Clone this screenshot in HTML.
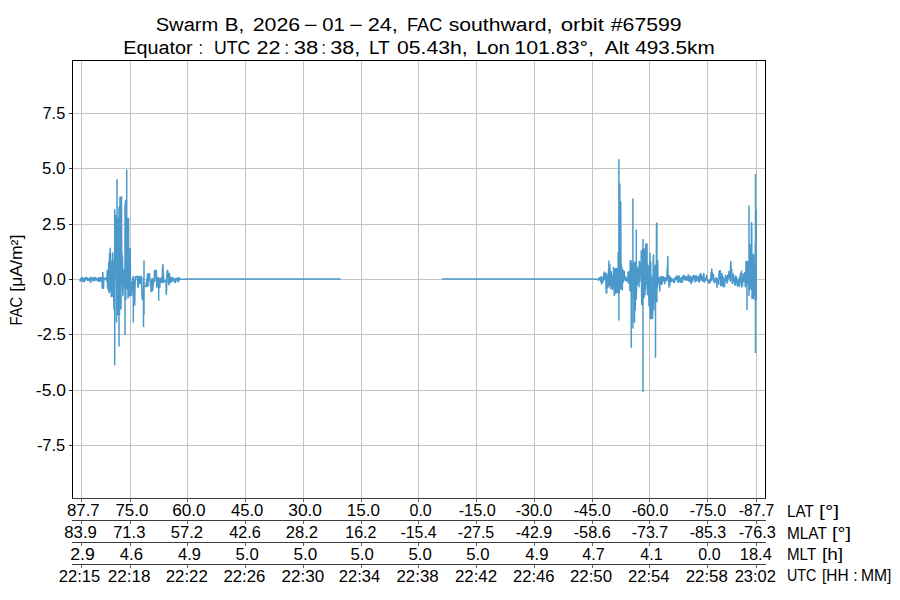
<!DOCTYPE html>
<html><head><meta charset="utf-8"><title>Swarm B FAC southward</title><style>
html,body{margin:0;padding:0;background:#fff;width:900px;height:600px;overflow:hidden}
svg{display:block}
text{font-family:"Liberation Sans", sans-serif;fill:#000;white-space:pre}
</style></head><body>
<svg width="900" height="600" viewBox="0 0 900 600">
<rect width="900" height="600" fill="#fff"/>
<rect x="81" y="60" width="1" height="438" fill="#c4c4c4"/>
<rect x="130" y="60" width="1" height="438" fill="#c4c4c4"/>
<rect x="187" y="60" width="1" height="438" fill="#c4c4c4"/>
<rect x="245" y="60" width="1" height="438" fill="#c4c4c4"/>
<rect x="303" y="60" width="1" height="438" fill="#c4c4c4"/>
<rect x="361" y="60" width="1" height="438" fill="#c4c4c4"/>
<rect x="418" y="60" width="1" height="438" fill="#c4c4c4"/>
<rect x="476" y="60" width="1" height="438" fill="#c4c4c4"/>
<rect x="534" y="60" width="1" height="438" fill="#c4c4c4"/>
<rect x="592" y="60" width="1" height="438" fill="#c4c4c4"/>
<rect x="649" y="60" width="1" height="438" fill="#c4c4c4"/>
<rect x="707" y="60" width="1" height="438" fill="#c4c4c4"/>
<rect x="756" y="60" width="1" height="438" fill="#c4c4c4"/>
<rect x="72" y="113" width="693" height="1" fill="#c4c4c4"/>
<rect x="69" y="113" width="3" height="1" fill="#333"/>
<rect x="72" y="168" width="693" height="1" fill="#c4c4c4"/>
<rect x="69" y="168" width="3" height="1" fill="#333"/>
<rect x="72" y="224" width="693" height="1" fill="#c4c4c4"/>
<rect x="69" y="224" width="3" height="1" fill="#333"/>
<rect x="72" y="279" width="693" height="1" fill="#c4c4c4"/>
<rect x="69" y="279" width="3" height="1" fill="#333"/>
<rect x="72" y="334" width="693" height="1" fill="#c4c4c4"/>
<rect x="69" y="334" width="3" height="1" fill="#333"/>
<rect x="72" y="390" width="693" height="1" fill="#c4c4c4"/>
<rect x="69" y="390" width="3" height="1" fill="#333"/>
<rect x="72" y="445" width="693" height="1" fill="#c4c4c4"/>
<rect x="69" y="445" width="3" height="1" fill="#333"/>
<path d="M80.00,279.05 L80.25,281.04 L80.50,280.84 L80.75,278.55 L81.00,278.74 L81.25,278.54 L81.50,279.85 L81.75,278.95 L82.00,280.12 L82.25,277.60 L82.50,281.35 L82.75,278.92 L83.00,280.02 L83.25,278.88 L83.50,278.67 L83.75,279.69 L84.00,281.63 L84.25,278.82 L84.50,278.87 L84.75,281.19 L85.00,278.24 L85.25,277.67 L85.50,279.59 L85.75,278.41 L86.00,277.60 L86.25,278.29 L86.50,278.59 L86.75,277.96 L87.00,277.69 L87.25,279.05 L87.50,280.35 L87.75,278.80 L88.00,278.35 L88.25,279.58 L88.50,280.08 L88.75,278.74 L89.00,279.82 L89.25,280.56 L89.50,278.82 L89.75,278.29 L90.00,280.11 L90.25,279.79 L90.50,282.50 L90.75,277.23 L91.00,278.42 L91.25,278.27 L91.50,277.60 L91.75,279.19 L92.00,279.79 L92.25,278.35 L92.50,281.08 L92.75,280.23 L93.00,279.94 L93.25,279.60 L93.50,280.43 L93.75,277.83 L94.00,279.92 L94.25,279.90 L94.50,277.60 L94.75,279.52 L95.00,278.23 L95.25,280.17 L95.50,277.66 L95.75,278.94 L96.00,279.51 L96.25,278.23 L96.50,279.90 L96.75,278.91 L97.00,279.74 L97.25,278.54 L97.50,280.63 L97.75,279.91 L98.00,278.84 L98.25,279.95 L98.50,280.89 L98.75,281.40 L99.00,277.62 L99.25,280.32 L99.50,279.70 L99.75,278.92 L100.00,278.12 L100.25,280.89 L100.50,277.90 L100.75,279.85 L101.00,280.95 L101.25,277.60 L101.50,278.74 L101.75,277.85 L102.00,280.43 L102.25,287.90 L102.50,288.40 L102.75,272.60 L103.00,276.70 L103.25,283.13 L103.50,288.28 L103.75,281.47 L104.00,278.35 L104.25,279.45 L104.50,278.99 L104.75,278.82 L105.00,278.36 L105.25,279.58 L105.50,279.46 L105.75,278.92 L106.00,278.81 L106.25,277.88 L106.50,278.57 L106.75,280.81 L107.00,277.12 L107.25,270.60 L107.50,287.40 L107.75,284.24 L108.00,289.40 L108.25,279.76 L108.50,270.10 L108.75,262.60 L109.00,292.40 L109.25,292.40 L109.50,253.50 L109.75,258.90 L110.00,290.50 L110.25,248.33 L110.50,269.01 L110.75,266.08 L111.00,282.93 L111.25,296.40 L111.50,279.45 L111.75,296.40 L112.00,260.87 L112.25,285.71 L112.50,252.90 L112.75,252.90 L113.00,295.95 L113.25,260.88 L113.50,291.35 L113.75,298.40 L114.00,309.40 L114.25,308.04 L114.50,309.40 L114.75,269.82 L115.00,221.58 L115.25,218.84 L115.50,238.87 L115.75,215.60 L116.00,238.17 L116.25,272.10 L116.50,291.85 L116.75,253.72 L117.00,215.60 L117.25,272.91 L117.50,288.38 L117.75,314.40 L118.00,303.07 L118.25,224.75 L118.50,217.99 L118.75,314.40 L119.00,310.51 L119.25,314.40 L119.50,314.40 L119.75,210.04 L120.00,292.64 L120.25,295.22 L120.50,298.82 L120.75,298.19 L121.00,286.16 L121.25,285.17 L121.50,196.85 L121.75,273.22 L122.00,252.88 L122.25,281.58 L122.50,256.94 L122.75,291.66 L123.00,295.77 L123.25,285.32 L123.50,285.47 L123.75,281.23 L124.00,269.83 L124.25,275.63 L124.50,268.85 L124.75,288.31 L125.00,279.34 L125.25,292.95 L125.50,200.60 L125.75,299.40 L126.00,208.65 L126.25,211.27 L126.50,260.79 L126.75,227.04 L127.00,285.99 L127.25,226.04 L127.50,218.60 L127.75,218.90 L128.00,298.10 L128.25,279.99 L128.50,218.60 L128.75,279.19 L129.00,262.60 L129.25,296.10 L129.50,262.60 L129.75,288.63 L130.00,289.94 L130.25,248.60 L130.50,284.79 L130.75,295.40 L131.00,288.02 L131.25,284.04 L131.50,295.40 L131.75,282.10 L132.00,286.39 L132.25,281.83 L132.50,290.68 L132.75,277.96 L133.00,286.74 L133.25,278.58 L133.50,276.60 L133.75,278.04 L134.00,295.40 L134.25,295.40 L134.50,296.58 L134.75,305.10 L135.00,286.42 L135.25,280.75 L135.50,280.08 L135.75,276.60 L136.00,276.60 L136.25,276.60 L136.50,276.60 L136.75,276.60 L137.00,276.60 L137.25,276.60 L137.50,276.60 L137.75,286.22 L138.00,283.49 L138.25,287.40 L138.50,284.45 L138.75,276.60 L139.00,277.17 L139.25,278.82 L139.50,277.91 L139.75,278.98 L140.00,283.52 L140.25,277.87 L140.50,276.60 L140.75,276.60 L141.00,276.60 L141.25,276.60 L141.50,281.29 L141.75,287.40 L142.00,295.01 L142.25,299.40 L142.50,299.40 L142.75,299.40 M144.00,286.40 L144.25,286.40 L144.50,286.40 L144.75,286.40 L145.00,286.40 L145.25,286.40 L145.50,286.40 L145.75,286.40 L146.00,286.40 L146.25,283.09 L146.50,286.40 L146.75,278.99 L147.00,283.97 L147.25,282.07 L147.50,273.91 L147.75,284.68 L148.00,286.13 L148.25,275.42 L148.50,280.46 L148.75,277.28 L149.00,273.60 L149.25,273.60 L149.50,273.60 L149.75,278.66 L150.00,280.44 L150.25,280.47 L150.50,285.49 L150.75,280.73 L151.00,291.40 L151.25,290.49 L151.50,289.93 L151.75,291.40 L152.00,278.88 L152.25,278.65 L152.50,290.01 L152.75,290.11 L153.00,282.89 L153.25,285.55 L153.50,278.95 L153.75,281.36 L154.00,278.80 L154.25,278.97 L154.50,270.60 L154.75,281.19 L155.00,276.33 L155.25,270.60 L155.50,270.60 L155.75,270.60 L156.00,273.60 L156.25,270.60 L156.50,273.95 L156.75,287.40 L157.00,285.46 L157.25,285.89 L157.50,281.00 L157.75,281.84 L158.00,277.60 L158.25,277.60 L158.50,277.73 L158.75,278.12 L159.00,287.40 L159.25,279.63 L159.50,280.80 L159.75,287.40 L160.00,283.10 L160.25,278.58 L160.50,278.59 L160.75,278.56 L161.00,282.00 L161.25,281.46 L161.50,277.65 L161.75,278.95 L162.00,282.40 L162.25,282.40 L162.50,267.45 L162.75,269.55 L163.00,264.60 L163.25,275.74 L163.50,274.51 L163.75,282.40 L164.00,281.10 L164.25,281.10 L164.50,281.10 L164.75,281.03 L165.00,281.00 L165.25,281.10 L165.50,281.10 L165.75,280.63 L166.00,281.10 L166.25,294.40 L166.50,290.86 L166.75,276.89 L167.00,273.11 L167.25,270.60 L167.50,270.60 L167.75,270.60 L168.00,276.94 L168.25,277.04 L168.50,283.62 L168.75,284.54 L169.00,284.75 L169.25,273.60 L169.50,273.60 L169.75,276.99 L170.00,282.40 L170.25,282.40 L170.50,282.40 L170.75,281.95 L171.00,277.60 L171.25,278.37 L171.50,278.63 L171.75,281.52 L172.00,280.23 L172.25,280.51 L172.50,277.60 L172.75,278.56 L173.00,278.12 L173.25,278.90 L173.50,280.32 L173.75,279.48 L174.00,280.33 L174.25,279.82 L174.50,281.99 L174.75,282.40 L175.00,278.57 L175.25,278.54 L175.50,282.29 L175.75,278.92 L176.00,280.87 L176.25,279.74 L176.50,278.56 L176.75,278.42 L177.00,279.23 L177.25,279.48 L177.50,280.16 L177.75,278.01 L178.00,278.54 L178.25,278.93 L178.50,282.02 L178.75,277.60 L179.00,279.83 L179.25,278.58 L179.50,279.81 L179.75,278.62 L180.00,279.15 L180.25,279.15 L180.50,279.15 L180.75,279.15 L181.00,279.15 L181.25,279.15 L181.50,279.15 L181.75,279.15 L182.00,279.15 L182.25,279.15 L182.50,279.15 L182.75,279.15 L183.00,279.15 L183.25,279.15 L183.50,279.15 L183.75,279.15 L184.00,279.15 L184.25,279.15 L184.50,279.15 L184.75,279.15 L185.00,279.15 L185.25,279.15 L185.50,279.15 L185.75,279.15 L186.00,279.15 L186.25,279.15 L186.50,279.15 L186.75,279.00 L187.00,279.00 L187.25,279.00 L187.50,279.00 L187.75,279.00 L188.00,279.00 L188.25,279.00 L188.50,279.00 L188.75,279.00 L189.00,279.00 L189.25,279.00 L189.50,279.00 L189.75,279.00 L190.00,279.00 L190.25,279.00 L190.50,279.00 L190.75,279.00 L191.00,279.00 L191.25,279.00 L191.50,279.00 L191.75,279.00 L192.00,279.00 L192.25,279.00 L192.50,279.00 L192.75,279.00 L193.00,279.00 L193.25,279.00 L193.50,279.00 L193.75,279.00 L194.00,279.00 L194.25,279.00 L194.50,279.00 L194.75,279.00 L195.00,279.00 L195.25,279.00 L195.50,279.00 L195.75,279.00 L196.00,279.00 L196.25,279.00 L196.50,279.00 L196.75,279.00 L197.00,279.00 L197.25,279.00 L197.50,279.00 L197.75,279.00 L198.00,279.00 L198.25,279.00 L198.50,279.00 L198.75,279.00 L199.00,279.00 L199.25,279.00 L199.50,279.00 L199.75,279.00 L200.00,279.00 L200.25,279.00 L200.50,279.00 L200.75,279.00 L201.00,279.00 L201.25,279.00 L201.50,279.00 L201.75,279.00 L202.00,279.00 L202.25,279.00 L202.50,279.00 L202.75,279.00 L203.00,279.00 L203.25,279.00 L203.50,279.00 L203.75,279.00 L204.00,279.00 L204.25,279.00 L204.50,279.00 L204.75,279.00 L205.00,279.00 L205.25,279.00 L205.50,279.00 L205.75,279.00 L206.00,279.00 L206.25,279.00 L206.50,279.00 L206.75,279.00 L207.00,279.00 L207.25,279.00 L207.50,279.00 L207.75,279.00 L208.00,279.00 L208.25,279.00 L208.50,279.00 L208.75,279.00 L209.00,279.00 L209.25,279.00 L209.50,279.00 L209.75,279.00 L210.00,279.00 L210.25,279.00 L210.50,279.00 L210.75,279.00 L211.00,279.00 L211.25,279.00 L211.50,279.00 L211.75,279.00 L212.00,279.00 L212.25,279.00 L212.50,279.00 L212.75,279.00 L213.00,279.00 L213.25,279.00 L213.50,279.00 L213.75,279.00 L214.00,279.00 L214.25,279.00 L214.50,279.00 L214.75,279.00 L215.00,279.00 L215.25,279.00 L215.50,279.00 L215.75,279.00 L216.00,279.00 L216.25,279.00 L216.50,279.00 L216.75,279.00 L217.00,279.00 L217.25,279.00 L217.50,279.00 L217.75,279.00 L218.00,279.00 L218.25,279.00 L218.50,279.00 L218.75,279.00 L219.00,279.00 L219.25,279.00 L219.50,279.00 L219.75,279.00 L220.00,279.00 L220.25,279.00 L220.50,279.00 L220.75,279.00 L221.00,279.00 L221.25,279.00 L221.50,279.00 L221.75,279.00 L222.00,279.00 L222.25,279.00 L222.50,279.00 L222.75,279.00 L223.00,279.00 L223.25,279.00 L223.50,279.00 L223.75,279.00 L224.00,279.00 L224.25,279.00 L224.50,279.00 L224.75,279.00 L225.00,279.00 L225.25,279.00 L225.50,279.00 L225.75,279.00 L226.00,279.00 L226.25,279.00 L226.50,279.00 L226.75,279.00 L227.00,279.00 L227.25,279.00 L227.50,279.00 L227.75,279.00 L228.00,279.00 L228.25,279.00 L228.50,279.00 L228.75,279.00 L229.00,279.00 L229.25,279.00 L229.50,279.00 L229.75,279.00 L230.00,279.00 L230.25,279.00 L230.50,279.00 L230.75,279.00 L231.00,279.00 L231.25,279.00 L231.50,279.00 L231.75,279.00 L232.00,279.00 L232.25,279.00 L232.50,279.00 L232.75,279.00 L233.00,279.00 L233.25,279.00 L233.50,279.00 L233.75,279.00 L234.00,279.00 L234.25,279.00 L234.50,279.00 L234.75,279.00 L235.00,279.00 L235.25,279.00 L235.50,279.00 L235.75,279.00 L236.00,279.00 L236.25,279.00 L236.50,279.00 L236.75,279.00 L237.00,279.00 L237.25,279.00 L237.50,279.00 L237.75,279.00 L238.00,279.00 L238.25,279.00 L238.50,279.00 L238.75,279.00 L239.00,279.00 L239.25,279.00 L239.50,279.00 L239.75,279.00 L240.00,279.00 L240.25,279.00 L240.50,279.00 L240.75,279.00 L241.00,279.00 L241.25,279.00 L241.50,279.00 L241.75,279.00 L242.00,279.00 L242.25,279.00 L242.50,279.00 L242.75,279.00 L243.00,279.00 L243.25,279.00 L243.50,279.00 L243.75,279.00 L244.00,279.00 L244.25,279.00 L244.50,279.00 L244.75,279.00 L245.00,279.00 L245.25,279.00 L245.50,279.00 L245.75,279.00 L246.00,279.00 L246.25,279.00 L246.50,279.00 L246.75,279.00 L247.00,279.00 L247.25,279.00 L247.50,279.00 L247.75,279.00 L248.00,279.00 L248.25,279.00 L248.50,279.00 L248.75,279.00 L249.00,279.00 L249.25,279.00 L249.50,279.00 L249.75,279.00 L250.00,279.00 L250.25,279.00 L250.50,279.00 L250.75,279.00 L251.00,279.00 L251.25,279.00 L251.50,279.00 L251.75,279.00 L252.00,279.00 L252.25,279.00 L252.50,279.00 L252.75,279.00 L253.00,279.00 L253.25,279.00 L253.50,279.00 L253.75,279.00 L254.00,279.00 L254.25,279.00 L254.50,279.00 L254.75,279.00 L255.00,279.00 L255.25,279.00 L255.50,279.00 L255.75,279.00 L256.00,279.00 L256.25,279.00 L256.50,279.00 L256.75,279.00 L257.00,279.00 L257.25,279.00 L257.50,279.00 L257.75,279.00 L258.00,279.00 L258.25,279.00 L258.50,279.00 L258.75,279.00 L259.00,279.00 L259.25,279.00 L259.50,279.00 L259.75,279.00 L260.00,279.00 L260.25,279.00 L260.50,279.00 L260.75,279.00 L261.00,279.00 L261.25,279.00 L261.50,279.00 L261.75,279.00 L262.00,279.00 L262.25,279.00 L262.50,279.00 L262.75,279.00 L263.00,279.00 L263.25,279.00 L263.50,279.00 L263.75,279.00 L264.00,279.00 L264.25,279.00 L264.50,279.00 L264.75,279.00 L265.00,279.00 L265.25,279.00 L265.50,279.00 L265.75,279.00 L266.00,279.00 L266.25,279.00 L266.50,279.00 L266.75,279.00 L267.00,279.00 L267.25,279.00 L267.50,279.00 L267.75,279.00 L268.00,279.00 L268.25,279.00 L268.50,279.00 L268.75,279.00 L269.00,279.00 L269.25,279.00 L269.50,279.00 L269.75,279.00 L270.00,279.00 L270.25,279.00 L270.50,279.00 L270.75,279.00 L271.00,279.00 L271.25,279.00 L271.50,279.00 L271.75,279.00 L272.00,279.00 L272.25,279.00 L272.50,279.00 L272.75,279.00 L273.00,279.00 L273.25,279.00 L273.50,279.00 L273.75,279.00 L274.00,279.00 L274.25,279.00 L274.50,279.00 L274.75,279.00 L275.00,279.00 L275.25,279.00 L275.50,279.00 L275.75,279.00 L276.00,279.00 L276.25,279.00 L276.50,279.00 L276.75,279.00 L277.00,279.00 L277.25,279.00 L277.50,279.00 L277.75,279.00 L278.00,279.00 L278.25,279.00 L278.50,279.00 L278.75,279.00 L279.00,279.00 L279.25,279.00 L279.50,279.00 L279.75,279.00 L280.00,279.00 L280.25,279.00 L280.50,279.00 L280.75,279.00 L281.00,279.00 L281.25,279.00 L281.50,279.00 L281.75,279.00 L282.00,279.00 L282.25,279.00 L282.50,279.00 L282.75,279.00 L283.00,279.00 L283.25,279.00 L283.50,279.00 L283.75,279.00 L284.00,279.00 L284.25,279.00 L284.50,279.00 L284.75,279.00 L285.00,279.00 L285.25,279.00 L285.50,279.00 L285.75,279.00 L286.00,279.00 L286.25,279.00 L286.50,279.00 L286.75,279.00 L287.00,279.00 L287.25,279.00 L287.50,279.00 L287.75,279.00 L288.00,279.00 L288.25,279.00 L288.50,279.00 L288.75,279.00 L289.00,279.00 L289.25,279.00 L289.50,279.00 L289.75,279.00 L290.00,279.00 L290.25,279.00 L290.50,279.00 L290.75,279.00 L291.00,279.00 L291.25,279.00 L291.50,279.00 L291.75,279.00 L292.00,279.00 L292.25,279.00 L292.50,279.00 L292.75,279.00 L293.00,279.00 L293.25,279.00 L293.50,279.00 L293.75,279.00 L294.00,279.00 L294.25,279.00 L294.50,279.00 L294.75,279.00 L295.00,279.00 L295.25,279.00 L295.50,279.00 L295.75,279.00 L296.00,279.00 L296.25,279.00 L296.50,279.00 L296.75,279.00 L297.00,279.00 L297.25,279.00 L297.50,279.00 L297.75,279.00 L298.00,279.00 L298.25,279.00 L298.50,279.00 L298.75,279.00 L299.00,279.00 L299.25,279.00 L299.50,279.00 L299.75,279.00 L300.00,279.00 L300.25,279.00 L300.50,279.00 L300.75,279.00 L301.00,279.00 L301.25,279.00 L301.50,279.00 L301.75,279.00 L302.00,279.00 L302.25,279.00 L302.50,279.00 L302.75,279.00 L303.00,279.00 L303.25,279.00 L303.50,279.00 L303.75,279.00 L304.00,279.00 L304.25,279.00 L304.50,279.00 L304.75,279.00 L305.00,279.00 L305.25,279.00 L305.50,279.00 L305.75,279.00 L306.00,279.00 L306.25,279.00 L306.50,279.00 L306.75,279.00 L307.00,279.00 L307.25,279.00 L307.50,279.00 L307.75,279.00 L308.00,279.00 L308.25,279.00 L308.50,279.00 L308.75,279.00 L309.00,279.00 L309.25,279.00 L309.50,279.00 L309.75,279.00 L310.00,279.00 L310.25,279.00 L310.50,279.00 L310.75,279.00 L311.00,279.00 L311.25,279.00 L311.50,279.00 L311.75,279.00 L312.00,279.00 L312.25,279.00 L312.50,279.00 L312.75,279.00 L313.00,279.00 L313.25,279.00 L313.50,279.00 L313.75,279.00 L314.00,279.00 L314.25,279.00 L314.50,279.00 L314.75,279.00 L315.00,279.00 L315.25,279.00 L315.50,279.00 L315.75,279.00 L316.00,279.00 L316.25,279.00 L316.50,279.00 L316.75,279.00 L317.00,279.00 L317.25,279.00 L317.50,279.00 L317.75,279.00 L318.00,279.00 L318.25,279.00 L318.50,279.00 L318.75,279.00 L319.00,279.00 L319.25,279.00 L319.50,279.00 L319.75,279.00 L320.00,279.00 L320.25,279.00 L320.50,279.00 L320.75,279.00 L321.00,279.00 L321.25,279.00 L321.50,279.00 L321.75,279.00 L322.00,279.00 L322.25,279.00 L322.50,279.00 L322.75,279.00 L323.00,279.00 L323.25,279.00 L323.50,279.00 L323.75,279.00 L324.00,279.00 L324.25,279.00 L324.50,279.00 L324.75,279.00 L325.00,279.00 L325.25,279.00 L325.50,279.00 L325.75,279.00 L326.00,279.00 L326.25,279.00 L326.50,279.00 L326.75,279.00 L327.00,279.00 L327.25,279.00 L327.50,279.00 L327.75,279.00 L328.00,279.00 L328.25,279.00 L328.50,279.00 L328.75,279.00 L329.00,279.00 L329.25,279.00 L329.50,279.00 L329.75,279.00 L330.00,279.00 L330.25,279.00 L330.50,279.00 L330.75,279.00 L331.00,279.00 L331.25,279.00 L331.50,279.00 L331.75,279.00 L332.00,279.00 L332.25,279.00 L332.50,279.00 L332.75,279.00 L333.00,279.00 L333.25,279.00 L333.50,279.00 L333.75,279.00 L334.00,279.00 L334.25,279.00 L334.50,279.00 L334.75,279.00 L335.00,279.00 L335.25,279.00 L335.50,279.00 L335.75,279.00 L336.00,279.00 L336.25,279.00 L336.50,279.00 L336.75,279.00 L337.00,279.00 L337.25,279.00 L337.50,279.00 L337.75,279.00 L338.00,279.00 L338.25,279.00 L338.50,279.00 L338.75,279.00 L339.00,279.00 L339.25,279.00 L339.50,279.00 L339.75,279.00 L340.00,279.00 L340.25,279.00 L340.50,279.00 L340.75,279.00 M442.00,279.00 L442.25,279.00 L442.50,279.00 L442.75,279.00 L443.00,279.00 L443.25,279.00 L443.50,279.00 L443.75,279.00 L444.00,279.00 L444.25,279.00 L444.50,279.00 L444.75,279.00 L445.00,279.00 L445.25,279.00 L445.50,279.00 L445.75,279.00 L446.00,279.00 L446.25,279.00 L446.50,279.00 L446.75,279.00 L447.00,279.00 L447.25,279.00 L447.50,279.00 L447.75,279.00 L448.00,279.00 L448.25,279.00 L448.50,279.00 L448.75,279.00 L449.00,279.00 L449.25,279.00 L449.50,279.00 L449.75,279.00 L450.00,279.00 L450.25,279.00 L450.50,279.00 L450.75,279.00 L451.00,279.00 L451.25,279.00 L451.50,279.00 L451.75,279.00 L452.00,279.00 L452.25,279.00 L452.50,279.00 L452.75,279.00 L453.00,279.00 L453.25,279.00 L453.50,279.00 L453.75,279.00 L454.00,279.00 L454.25,279.00 L454.50,279.00 L454.75,279.00 L455.00,279.00 L455.25,279.00 L455.50,279.00 L455.75,279.00 L456.00,279.00 L456.25,279.00 L456.50,279.00 L456.75,279.00 L457.00,279.00 L457.25,279.00 L457.50,279.00 L457.75,279.00 L458.00,279.00 L458.25,279.00 L458.50,279.00 L458.75,279.00 L459.00,279.00 L459.25,279.00 L459.50,279.00 L459.75,279.00 L460.00,279.00 L460.25,279.00 L460.50,279.00 L460.75,279.00 L461.00,279.00 L461.25,279.00 L461.50,279.00 L461.75,279.00 L462.00,279.00 L462.25,279.00 L462.50,279.00 L462.75,279.00 L463.00,279.00 L463.25,279.00 L463.50,279.00 L463.75,279.00 L464.00,279.00 L464.25,279.00 L464.50,279.00 L464.75,279.00 L465.00,279.00 L465.25,279.00 L465.50,279.00 L465.75,279.00 L466.00,279.00 L466.25,279.00 L466.50,279.00 L466.75,279.00 L467.00,279.00 L467.25,279.00 L467.50,279.00 L467.75,279.00 L468.00,279.00 L468.25,279.00 L468.50,279.00 L468.75,279.00 L469.00,279.00 L469.25,279.00 L469.50,279.00 L469.75,279.00 L470.00,279.00 L470.25,279.00 L470.50,279.00 L470.75,279.00 L471.00,279.00 L471.25,279.00 L471.50,279.00 L471.75,279.00 L472.00,279.00 L472.25,279.00 L472.50,279.00 L472.75,279.00 L473.00,279.00 L473.25,279.00 L473.50,279.00 L473.75,279.00 L474.00,279.00 L474.25,279.00 L474.50,279.00 L474.75,279.00 L475.00,279.00 L475.25,279.00 L475.50,279.00 L475.75,279.00 L476.00,279.00 L476.25,279.00 L476.50,279.00 L476.75,279.00 L477.00,279.00 L477.25,279.00 L477.50,279.00 L477.75,279.00 L478.00,279.00 L478.25,279.00 L478.50,279.00 L478.75,279.00 L479.00,279.00 L479.25,279.00 L479.50,279.00 L479.75,279.00 L480.00,279.00 L480.25,279.00 L480.50,279.00 L480.75,279.00 L481.00,279.00 L481.25,279.00 L481.50,279.00 L481.75,279.00 L482.00,279.00 L482.25,279.00 L482.50,279.00 L482.75,279.00 L483.00,279.00 L483.25,279.00 L483.50,279.00 L483.75,279.00 L484.00,279.00 L484.25,279.00 L484.50,279.00 L484.75,279.00 L485.00,279.00 L485.25,279.00 L485.50,279.00 L485.75,279.00 L486.00,279.00 L486.25,279.00 L486.50,279.00 L486.75,279.00 L487.00,279.00 L487.25,279.00 L487.50,279.00 L487.75,279.00 L488.00,279.00 L488.25,279.00 L488.50,279.00 L488.75,279.00 L489.00,279.00 L489.25,279.00 L489.50,279.00 L489.75,279.00 L490.00,279.00 L490.25,279.00 L490.50,279.00 L490.75,279.00 L491.00,279.00 L491.25,279.00 L491.50,279.00 L491.75,279.00 L492.00,279.00 L492.25,279.00 L492.50,279.00 L492.75,279.00 L493.00,279.00 L493.25,279.00 L493.50,279.00 L493.75,279.00 L494.00,279.00 L494.25,279.00 L494.50,279.00 L494.75,279.00 L495.00,279.00 L495.25,279.00 L495.50,279.00 L495.75,279.00 L496.00,279.00 L496.25,279.00 L496.50,279.00 L496.75,279.00 L497.00,279.00 L497.25,279.00 L497.50,279.00 L497.75,279.00 L498.00,279.00 L498.25,279.00 L498.50,279.00 L498.75,279.00 L499.00,279.00 L499.25,279.00 L499.50,279.00 L499.75,279.00 L500.00,279.00 L500.25,279.00 L500.50,279.00 L500.75,279.00 L501.00,279.00 L501.25,279.00 L501.50,279.00 L501.75,279.00 L502.00,279.00 L502.25,279.00 L502.50,279.00 L502.75,279.00 L503.00,279.00 L503.25,279.00 L503.50,279.00 L503.75,279.00 L504.00,279.00 L504.25,279.00 L504.50,279.00 L504.75,279.00 L505.00,279.00 L505.25,279.00 L505.50,279.00 L505.75,279.00 L506.00,279.00 L506.25,279.00 L506.50,279.00 L506.75,279.00 L507.00,279.00 L507.25,279.00 L507.50,279.00 L507.75,279.00 L508.00,279.00 L508.25,279.00 L508.50,279.00 L508.75,279.00 L509.00,279.00 L509.25,279.00 L509.50,279.00 L509.75,279.00 L510.00,279.00 L510.25,279.00 L510.50,279.00 L510.75,279.00 L511.00,279.00 L511.25,279.00 L511.50,279.00 L511.75,279.00 L512.00,279.00 L512.25,279.00 L512.50,279.00 L512.75,279.00 L513.00,279.00 L513.25,279.00 L513.50,279.00 L513.75,279.00 L514.00,279.00 L514.25,279.00 L514.50,279.00 L514.75,279.00 L515.00,279.00 L515.25,279.00 L515.50,279.00 L515.75,279.00 L516.00,279.00 L516.25,279.00 L516.50,279.00 L516.75,279.00 L517.00,279.00 L517.25,279.00 L517.50,279.00 L517.75,279.00 L518.00,279.00 L518.25,279.00 L518.50,279.00 L518.75,279.00 L519.00,279.00 L519.25,279.00 L519.50,279.00 L519.75,279.00 L520.00,279.00 L520.25,279.00 L520.50,279.00 L520.75,279.00 L521.00,279.00 L521.25,279.00 L521.50,279.00 L521.75,279.00 L522.00,279.00 L522.25,279.00 L522.50,279.00 L522.75,279.00 L523.00,279.00 L523.25,279.00 L523.50,279.00 L523.75,279.00 L524.00,279.00 L524.25,279.00 L524.50,279.00 L524.75,279.00 L525.00,279.00 L525.25,279.00 L525.50,279.00 L525.75,279.00 L526.00,279.00 L526.25,279.00 L526.50,279.00 L526.75,279.00 L527.00,279.00 L527.25,279.00 L527.50,279.00 L527.75,279.00 L528.00,279.00 L528.25,279.00 L528.50,279.00 L528.75,279.00 L529.00,279.00 L529.25,279.00 L529.50,279.00 L529.75,279.00 L530.00,279.00 L530.25,279.00 L530.50,279.00 L530.75,279.00 L531.00,279.00 L531.25,279.00 L531.50,279.00 L531.75,279.00 L532.00,279.00 L532.25,279.00 L532.50,279.00 L532.75,279.00 L533.00,279.00 L533.25,279.00 L533.50,279.00 L533.75,279.00 L534.00,279.00 L534.25,279.00 L534.50,279.00 L534.75,279.00 L535.00,279.00 L535.25,279.00 L535.50,279.00 L535.75,279.00 L536.00,279.00 L536.25,279.00 L536.50,279.00 L536.75,279.00 L537.00,279.00 L537.25,279.00 L537.50,279.00 L537.75,279.00 L538.00,279.00 L538.25,279.00 L538.50,279.00 L538.75,279.00 L539.00,279.00 L539.25,279.00 L539.50,279.00 L539.75,279.00 L540.00,279.00 L540.25,279.00 L540.50,279.00 L540.75,279.00 L541.00,279.00 L541.25,279.00 L541.50,279.00 L541.75,279.00 L542.00,279.00 L542.25,279.00 L542.50,279.00 L542.75,279.00 L543.00,279.00 L543.25,279.00 L543.50,279.00 L543.75,279.00 L544.00,279.00 L544.25,279.00 L544.50,279.00 L544.75,279.00 L545.00,279.00 L545.25,279.00 L545.50,279.00 L545.75,279.00 L546.00,279.00 L546.25,279.00 L546.50,279.00 L546.75,279.00 L547.00,279.00 L547.25,279.00 L547.50,279.00 L547.75,279.00 L548.00,279.00 L548.25,279.00 L548.50,279.00 L548.75,279.00 L549.00,279.00 L549.25,279.00 L549.50,279.00 L549.75,279.00 L550.00,279.00 L550.25,279.00 L550.50,279.00 L550.75,279.00 L551.00,279.00 L551.25,279.00 L551.50,279.00 L551.75,279.00 L552.00,279.00 L552.25,279.00 L552.50,279.00 L552.75,279.00 L553.00,279.00 L553.25,279.00 L553.50,279.00 L553.75,279.00 L554.00,279.00 L554.25,279.00 L554.50,279.00 L554.75,279.00 L555.00,279.00 L555.25,279.00 L555.50,279.00 L555.75,279.00 L556.00,279.00 L556.25,279.00 L556.50,279.00 L556.75,279.00 L557.00,279.00 L557.25,279.00 L557.50,279.00 L557.75,279.00 L558.00,279.00 L558.25,279.00 L558.50,279.00 L558.75,279.00 L559.00,279.00 L559.25,279.00 L559.50,279.00 L559.75,279.00 L560.00,279.00 L560.25,279.00 L560.50,279.00 L560.75,279.00 L561.00,279.00 L561.25,279.00 L561.50,279.00 L561.75,279.00 L562.00,279.00 L562.25,279.00 L562.50,279.00 L562.75,279.00 L563.00,279.00 L563.25,279.00 L563.50,279.00 L563.75,279.00 L564.00,279.00 L564.25,279.00 L564.50,279.00 L564.75,279.00 L565.00,279.00 L565.25,279.00 L565.50,279.00 L565.75,279.00 L566.00,279.00 L566.25,279.00 L566.50,279.00 L566.75,279.00 L567.00,279.00 L567.25,279.00 L567.50,279.00 L567.75,279.00 L568.00,279.00 L568.25,279.00 L568.50,279.00 L568.75,279.00 L569.00,279.00 L569.25,279.00 L569.50,279.00 L569.75,279.00 L570.00,279.00 L570.25,279.00 L570.50,279.00 L570.75,279.00 L571.00,279.00 L571.25,279.00 L571.50,279.00 L571.75,279.00 L572.00,279.00 L572.25,279.00 L572.50,279.00 L572.75,279.00 L573.00,279.00 L573.25,279.00 L573.50,279.00 L573.75,279.00 L574.00,279.00 L574.25,279.00 L574.50,279.00 L574.75,279.00 L575.00,279.00 L575.25,279.00 L575.50,279.00 L575.75,279.00 L576.00,279.00 L576.25,279.00 L576.50,279.00 L576.75,279.00 L577.00,279.00 L577.25,279.00 L577.50,279.00 L577.75,279.00 L578.00,279.00 L578.25,279.00 L578.50,279.00 L578.75,279.00 L579.00,279.00 L579.25,279.00 L579.50,279.00 L579.75,279.00 L580.00,279.00 L580.25,279.00 L580.50,279.00 L580.75,279.00 L581.00,279.00 L581.25,279.00 L581.50,279.00 L581.75,279.00 L582.00,279.00 L582.25,279.00 L582.50,279.00 L582.75,279.00 L583.00,279.00 L583.25,279.00 L583.50,279.00 L583.75,279.00 L584.00,279.00 L584.25,279.00 L584.50,279.00 L584.75,279.00 L585.00,279.00 L585.25,279.00 L585.50,279.00 L585.75,279.00 L586.00,279.00 L586.25,279.00 L586.50,279.00 L586.75,279.00 L587.00,279.00 L587.25,279.00 L587.50,279.00 L587.75,279.00 L588.00,279.00 L588.25,279.00 L588.50,279.00 L588.75,279.00 L589.00,279.00 L589.25,279.00 L589.50,279.00 L589.75,279.00 L590.00,279.00 L590.25,279.00 L590.50,279.00 L590.75,279.00 L591.00,279.00 L591.25,279.00 L591.50,279.00 L591.75,279.00 L592.00,279.00 L592.25,279.00 L592.50,279.00 L592.75,279.00 L593.00,279.00 L593.25,279.00 L593.50,279.00 L593.75,279.00 L594.00,279.00 L594.25,279.00 L594.50,279.00 L594.75,279.35 L595.00,279.35 L595.25,279.35 L595.50,279.35 L595.75,279.35 L596.00,279.35 L596.25,279.35 L596.50,279.35 L596.75,279.35 L597.00,279.35 L597.25,279.35 L597.50,279.35 L597.75,279.35 L598.00,279.34 L598.25,280.40 L598.50,279.33 L598.75,279.40 L599.00,279.35 L599.25,277.80 L599.50,279.51 L599.75,278.67 L600.00,277.70 L600.25,278.94 L600.50,278.64 L600.75,281.56 L601.00,278.80 L601.25,276.56 L601.50,283.95 L601.75,282.36 L602.00,283.32 L602.25,281.07 L602.50,278.50 L602.75,277.49 L603.00,277.99 L603.25,281.59 L603.50,279.31 L603.75,273.66 L604.00,278.81 L604.25,272.01 L604.50,279.45 L604.75,273.06 L605.00,272.76 L605.25,279.32 L605.50,278.72 L605.75,273.60 L606.00,286.03 L606.25,293.10 L606.50,273.67 L606.75,293.10 L607.00,277.44 L607.25,277.88 L607.50,278.59 L607.75,275.72 L608.00,287.42 L608.25,282.19 L608.50,269.72 L608.75,275.58 L609.00,261.10 L609.25,274.71 L609.50,285.71 L609.75,264.60 L610.00,274.67 L610.25,280.05 L610.50,286.52 L610.75,288.68 L611.00,274.46 L611.25,271.65 L611.50,282.23 L611.75,275.39 L612.00,275.92 L612.25,286.75 L612.50,289.40 L612.75,280.91 L613.00,277.49 L613.25,285.46 L613.50,267.60 L613.75,278.86 L614.00,270.66 L614.25,295.40 L614.50,287.15 L614.75,280.40 L615.00,277.61 L615.25,268.60 L615.50,286.08 L615.75,293.40 L616.00,273.77 L616.25,285.79 L616.50,286.18 L616.75,268.60 L617.00,288.29 L617.25,292.45 L617.50,281.27 L617.75,278.55 L618.00,290.09 L618.25,252.60 L618.50,280.31 L618.75,293.83 L619.00,256.38 L619.25,292.96 L619.50,271.39 L619.75,252.60 L620.00,272.04 L620.25,215.06 L620.50,281.29 L620.75,201.88 L621.00,288.71 L621.25,263.76 L621.50,282.29 L621.75,266.75 L622.00,272.34 L622.25,290.01 L622.50,280.99 L622.75,270.85 L623.00,270.02 L623.25,281.72 L623.50,280.72 L623.75,276.66 L624.00,279.57 L624.25,271.62 L624.50,275.92 L624.75,276.49 L625.00,279.71 L625.25,279.59 L625.50,276.74 L625.75,280.48 L626.00,280.57 L626.25,279.35 L626.50,281.08 L626.75,278.13 L627.00,278.66 L627.25,279.95 L627.50,278.90 L627.75,280.59 L628.00,272.18 L628.25,283.03 L628.50,274.74 L628.75,278.10 L629.00,271.49 L629.25,280.70 L629.50,282.60 L629.75,282.03 L630.00,290.72 L630.25,260.60 L630.50,269.07 L630.75,273.13 L631.00,267.14 L631.25,294.80 L631.50,281.60 L631.75,278.69 L632.00,287.54 L632.25,263.64 L632.50,264.34 L632.75,264.78 L633.00,287.72 L633.25,284.98 L633.50,289.13 L633.75,297.89 L634.00,263.18 L634.25,272.47 L634.50,283.52 L634.75,263.28 L635.00,272.80 L635.25,310.05 L635.50,294.51 L635.75,294.15 L636.00,279.61 L636.25,271.85 L636.50,294.19 L636.75,266.43 L637.00,280.49 L637.25,284.85 L637.50,272.31 L637.75,267.88 L638.00,278.83 L638.25,281.64 L638.50,281.13 L638.75,279.69 L639.00,286.83 L639.25,261.60 L639.50,268.69 L639.75,281.30 L640.00,267.86 L640.25,262.90 L640.50,264.51 L640.75,267.98 L641.00,274.09 L641.25,250.86 L641.50,283.11 L641.75,304.40 L642.00,274.94 L642.25,301.33 L642.50,284.05 L642.75,248.19 L643.00,273.71 L643.25,258.75 L643.50,289.80 L643.75,255.22 L644.00,297.61 L644.25,287.13 L644.50,249.10 L644.75,290.03 L645.00,294.40 L645.25,259.97 L645.50,289.46 L645.75,244.10 L646.00,281.68 L646.25,244.10 L646.50,284.12 L646.75,244.10 L647.00,244.10 L647.25,283.21 L647.50,294.40 L647.75,264.66 L648.00,294.52 L648.25,281.07 L648.50,275.56 L648.75,290.50 L649.00,306.10 L649.25,265.88 L649.50,289.54 L649.75,285.45 L650.00,253.07 L650.25,318.40 L650.50,318.40 L650.75,261.65 L651.00,318.40 L651.25,280.53 L651.50,276.03 L651.75,318.40 L652.00,285.18 L652.25,287.78 L652.50,318.40 L652.75,314.00 L653.00,303.27 L653.25,255.92 L653.50,255.10 L653.75,309.60 L654.00,269.80 L654.25,281.09 L654.50,268.33 L654.75,277.18 L655.00,266.30 L655.25,299.40 L655.50,268.88 L655.75,277.79 L656.00,271.68 L656.25,298.46 L656.50,223.77 L656.75,277.70 L657.00,270.86 L657.25,287.55 L657.50,286.62 L657.75,260.96 L658.00,281.00 L658.25,278.12 L658.50,282.91 L658.75,278.76 L659.00,277.46 L659.25,278.94 L659.50,282.04 L659.75,291.10 L660.00,279.63 L660.25,280.07 L660.50,283.51 L660.75,276.96 L661.00,276.60 L661.25,276.64 L661.50,278.15 L661.75,284.40 L662.00,282.04 L662.25,283.37 L662.50,279.68 L662.75,276.60 L663.00,276.60 L663.25,279.31 L663.50,279.62 L663.75,277.43 L664.00,281.14 L664.25,277.68 L664.50,281.12 L664.75,283.79 L665.00,278.74 L665.25,277.80 L665.50,280.40 L665.75,278.04 L666.00,280.65 L666.25,277.97 L666.50,280.43 L666.75,279.70 L667.00,274.73 L667.25,267.09 L667.50,278.25 L667.75,256.60 L668.00,276.79 L668.25,277.31 L668.50,281.92 L668.75,276.12 L669.00,287.34 L669.25,279.62 L669.50,276.12 L669.75,285.37 L670.00,282.40 L670.25,279.73 L670.50,278.02 L670.75,278.73 L671.00,278.04 L671.25,278.32 L671.50,281.52 L671.75,280.46 L672.00,279.70 L672.25,279.83 L672.50,279.15 L672.75,280.56 L673.00,281.05 L673.25,278.96 L673.50,279.17 L673.75,282.40 L674.00,281.08 L674.25,279.29 L674.50,282.40 L674.75,280.15 L675.00,277.85 L675.25,279.73 L675.50,278.01 L675.75,278.07 L676.00,279.19 L676.25,278.65 L676.50,276.10 L676.75,276.12 L677.00,275.97 L677.25,280.65 L677.50,277.37 L677.75,276.42 L678.00,282.29 L678.25,278.98 L678.50,281.68 L678.75,282.17 L679.00,279.68 L679.25,275.95 L679.50,279.11 L679.75,280.25 L680.00,281.12 L680.25,279.76 L680.50,281.40 L680.75,282.23 L681.00,277.79 L681.25,281.30 L681.50,280.00 L681.75,278.07 L682.00,277.98 L682.25,282.15 L682.50,281.72 L682.75,275.88 L683.00,278.26 L683.25,278.45 L683.50,278.43 L683.75,277.63 L684.00,275.19 L684.25,279.67 L684.50,277.07 L684.75,277.56 L685.00,277.16 L685.25,276.75 L685.50,279.82 L685.75,279.94 L686.00,277.79 L686.25,276.43 L686.50,277.14 L686.75,280.31 L687.00,279.62 L687.25,279.61 L687.50,278.47 L687.75,278.24 L688.00,279.21 L688.25,274.78 L688.50,280.93 L688.75,277.91 L689.00,277.35 L689.25,281.03 L689.50,280.01 L689.75,279.38 L690.00,278.06 L690.25,275.91 L690.50,278.40 L690.75,283.01 L691.00,277.97 L691.25,283.36 L691.50,277.61 L691.75,277.26 L692.00,279.79 L692.25,279.24 L692.50,281.60 L692.75,278.05 L693.00,276.86 L693.25,275.60 L693.50,275.63 L693.75,276.05 L694.00,275.60 L694.25,278.52 L694.50,277.66 L694.75,275.60 L695.00,281.80 L695.25,278.48 L695.50,276.58 L695.75,280.29 L696.00,281.18 L696.25,277.69 L696.50,275.95 L696.75,276.28 L697.00,280.04 L697.25,278.81 L697.50,277.48 L697.75,278.49 L698.00,280.72 L698.25,277.10 L698.50,277.74 L698.75,276.13 L699.00,281.60 L699.25,281.90 L699.50,281.53 L699.75,279.56 L700.00,280.38 L700.25,273.64 L700.50,278.18 L700.75,274.93 L701.00,273.99 L701.25,275.48 L701.50,276.94 L701.75,279.65 L702.00,280.46 L702.25,279.91 L702.50,276.73 L702.75,279.79 L703.00,279.02 L703.25,281.13 L703.50,277.39 L703.75,273.60 L704.00,275.12 L704.25,282.14 L704.50,280.79 L704.75,279.19 L705.00,280.65 L705.25,280.40 L705.50,280.25 L705.75,278.13 L706.00,278.96 L706.25,279.35 L706.50,277.33 L706.75,275.30 L707.00,278.29 L707.25,280.61 L707.50,280.65 L707.75,280.38 L708.00,280.32 L708.25,282.40 L708.50,280.98 L708.75,281.47 L709.00,282.90 L709.25,280.58 L709.50,280.02 L709.75,281.46 L710.00,282.90 L710.25,280.92 L710.50,280.32 L710.75,279.59 L711.00,272.53 L711.25,280.62 L711.50,278.90 L711.75,269.04 L712.00,276.76 L712.25,272.60 L712.50,273.63 L712.75,277.46 L713.00,275.43 L713.25,280.77 L713.50,274.81 L713.75,278.65 L714.00,280.24 L714.25,282.80 L714.50,282.31 L714.75,280.55 L715.00,279.67 L715.25,279.09 L715.50,281.70 L715.75,277.98 L716.00,280.96 L716.25,279.21 L716.50,280.18 L716.75,277.91 L717.00,287.40 L717.25,278.88 L717.50,280.15 L717.75,280.62 L718.00,282.24 L718.25,282.03 L718.50,281.85 L718.75,284.28 L719.00,271.83 L719.25,276.98 L719.50,270.69 L719.75,278.05 L720.00,271.33 L720.25,270.72 L720.50,277.50 L720.75,285.70 L721.00,282.82 L721.25,281.36 L721.50,285.26 L721.75,277.70 L722.00,273.60 L722.25,275.92 L722.50,277.32 L722.75,283.20 L723.00,286.40 L723.25,277.36 L723.50,286.40 L723.75,286.40 L724.00,285.02 L724.25,282.30 L724.50,286.40 L724.75,282.54 L725.00,278.46 L725.25,279.38 L725.50,275.20 L725.75,279.35 L726.00,278.80 L726.25,280.27 L726.50,280.85 L726.75,276.41 L727.00,283.15 L727.25,277.05 L727.50,281.74 L727.75,275.08 L728.00,278.90 L728.25,275.81 L728.50,278.27 L728.75,276.28 L729.00,271.60 L729.25,271.89 M730.00,274.76 L730.25,280.97 L730.50,266.98 L730.75,261.60 L731.00,264.18 L731.25,272.75 L731.50,271.43 L731.75,269.40 L732.00,281.17 L732.25,283.50 L732.50,283.32 L732.75,276.99 L733.00,278.71 L733.25,278.31 L733.50,274.00 L733.75,280.79 L734.00,279.94 L734.25,277.65 L734.50,284.15 L734.75,283.60 L735.00,283.80 L735.25,285.21 L735.50,283.74 L735.75,275.99 L736.00,276.83 L736.25,282.24 L736.50,277.28 L736.75,278.66 L737.00,280.50 L737.25,285.16 L737.50,286.00 L737.75,284.68 L738.00,280.45 L738.25,284.55 L738.50,283.65 L738.75,279.58 L739.00,286.73 L739.25,284.12 L739.50,277.06 L739.75,285.28 L740.00,279.55 L740.25,282.51 L740.50,273.47 L740.75,277.31 L741.00,274.58 L741.25,273.65 L741.50,271.10 L741.75,287.10 L742.00,280.66 L742.25,280.87 L742.50,285.73 L742.75,280.40 L743.00,282.31 L743.25,274.11 L743.50,278.39 L743.75,277.13 L744.00,281.07 L744.25,280.67 L744.50,274.64 L744.75,272.60 L745.00,273.15 L745.25,286.73 L745.50,283.49 L745.75,283.27 L746.00,261.60 L746.25,261.60 L746.50,269.25 L746.75,273.85 L747.00,269.56 L747.25,284.05 L747.50,276.39 L747.75,261.60 L748.00,262.38 L748.25,281.21 L748.50,280.15 L748.75,277.67 L749.00,295.40 L749.25,269.97 L749.50,280.85 L749.75,244.35 L750.00,260.91 L750.25,288.29 L750.50,289.04 L750.75,271.11 L751.00,286.00 L751.25,280.00 L751.50,223.10 L751.75,223.10 L752.00,298.40 L752.25,293.65 L752.50,277.74 L752.75,254.60 L753.00,254.60 L753.25,298.40 L753.50,254.60 L753.75,271.81 L754.00,295.11 L754.25,281.66 L754.50,293.00 L754.75,274.30 L755.00,299.40 L755.25,243.11 L755.50,240.60 L755.75,284.09 L756.00,299.40 L756.25,277.05 M114.70,209.30 L114.70,365.40 M117.00,179.30 L117.00,299.40 M119.00,206.60 L119.00,346.40 M120.00,196.85 L120.00,299.40 M125.00,204.60 L125.00,335.10 M126.70,169.60 L126.70,289.40 M133.30,276.60 L133.30,322.40 M143.50,277.60 L143.50,327.10 M144.00,260.60 L144.00,314.40 M158.70,277.60 L158.70,300.70 M116.50,215.60 L116.50,322.40 M121.00,240.60 L121.00,309.40 M618.90,159.30 L618.90,320.40 M631.20,260.60 L631.20,347.70 M632.90,198.60 L632.90,328.40 M634.50,261.60 L634.50,322.70 M643.00,239.10 L643.00,391.90 M655.50,264.60 L655.50,357.70 M636.30,229.60 L636.30,299.40 M656.90,222.60 L656.90,302.40 M747.00,261.60 L747.00,309.90 M749.00,205.40 L749.00,295.40 M755.50,174.10 L755.50,352.90 M619.80,183.60 L619.80,289.40 M756.20,209.60 L756.20,299.40" fill="none" stroke="#4b98ca" stroke-width="1.5" stroke-linejoin="round"/>
<rect x="72" y="60" width="1" height="439" fill="#000"/>
<rect x="72" y="60" width="694" height="1" fill="#000"/>
<rect x="765" y="60" width="1" height="439" fill="#000"/>
<rect x="72" y="498" width="694" height="1" fill="#3c3c3c"/>
<rect x="81" y="499" width="1" height="3" fill="#666"/>
<rect x="130" y="499" width="1" height="3" fill="#666"/>
<rect x="187" y="499" width="1" height="3" fill="#666"/>
<rect x="245" y="499" width="1" height="3" fill="#666"/>
<rect x="303" y="499" width="1" height="3" fill="#666"/>
<rect x="361" y="499" width="1" height="3" fill="#666"/>
<rect x="418" y="499" width="1" height="3" fill="#666"/>
<rect x="476" y="499" width="1" height="3" fill="#666"/>
<rect x="534" y="499" width="1" height="3" fill="#666"/>
<rect x="592" y="499" width="1" height="3" fill="#666"/>
<rect x="649" y="499" width="1" height="3" fill="#666"/>
<rect x="707" y="499" width="1" height="3" fill="#666"/>
<rect x="756" y="499" width="1" height="3" fill="#666"/>
<rect x="72" y="520" width="694" height="1" fill="#3c3c3c"/>
<rect x="81" y="521" width="1" height="3" fill="#666"/>
<rect x="130" y="521" width="1" height="3" fill="#666"/>
<rect x="187" y="521" width="1" height="3" fill="#666"/>
<rect x="245" y="521" width="1" height="3" fill="#666"/>
<rect x="303" y="521" width="1" height="3" fill="#666"/>
<rect x="361" y="521" width="1" height="3" fill="#666"/>
<rect x="418" y="521" width="1" height="3" fill="#666"/>
<rect x="476" y="521" width="1" height="3" fill="#666"/>
<rect x="534" y="521" width="1" height="3" fill="#666"/>
<rect x="592" y="521" width="1" height="3" fill="#666"/>
<rect x="649" y="521" width="1" height="3" fill="#666"/>
<rect x="707" y="521" width="1" height="3" fill="#666"/>
<rect x="756" y="521" width="1" height="3" fill="#666"/>
<rect x="72" y="542" width="694" height="1" fill="#3c3c3c"/>
<rect x="81" y="543" width="1" height="3" fill="#666"/>
<rect x="130" y="543" width="1" height="3" fill="#666"/>
<rect x="187" y="543" width="1" height="3" fill="#666"/>
<rect x="245" y="543" width="1" height="3" fill="#666"/>
<rect x="303" y="543" width="1" height="3" fill="#666"/>
<rect x="361" y="543" width="1" height="3" fill="#666"/>
<rect x="418" y="543" width="1" height="3" fill="#666"/>
<rect x="476" y="543" width="1" height="3" fill="#666"/>
<rect x="534" y="543" width="1" height="3" fill="#666"/>
<rect x="592" y="543" width="1" height="3" fill="#666"/>
<rect x="649" y="543" width="1" height="3" fill="#666"/>
<rect x="707" y="543" width="1" height="3" fill="#666"/>
<rect x="756" y="543" width="1" height="3" fill="#666"/>
<rect x="72" y="564" width="694" height="1" fill="#3c3c3c"/>
<rect x="81" y="565" width="1" height="3" fill="#666"/>
<rect x="130" y="565" width="1" height="3" fill="#666"/>
<rect x="187" y="565" width="1" height="3" fill="#666"/>
<rect x="245" y="565" width="1" height="3" fill="#666"/>
<rect x="303" y="565" width="1" height="3" fill="#666"/>
<rect x="361" y="565" width="1" height="3" fill="#666"/>
<rect x="418" y="565" width="1" height="3" fill="#666"/>
<rect x="476" y="565" width="1" height="3" fill="#666"/>
<rect x="534" y="565" width="1" height="3" fill="#666"/>
<rect x="592" y="565" width="1" height="3" fill="#666"/>
<rect x="649" y="565" width="1" height="3" fill="#666"/>
<rect x="707" y="565" width="1" height="3" fill="#666"/>
<rect x="756" y="565" width="1" height="3" fill="#666"/>
<text x="67.00" y="516.0" font-size="16.0" textLength="32.65" lengthAdjust="spacingAndGlyphs">87.7</text>
<text x="115.51" y="516.0" font-size="16.0" textLength="32.80" lengthAdjust="spacingAndGlyphs">75.0</text>
<text x="172.20" y="516.0" font-size="16.0" textLength="33.42" lengthAdjust="spacingAndGlyphs">60.0</text>
<text x="230.90" y="516.0" font-size="16.0" textLength="32.35" lengthAdjust="spacingAndGlyphs">45.0</text>
<text x="288.24" y="516.0" font-size="16.0" textLength="33.74" lengthAdjust="spacingAndGlyphs">30.0</text>
<text x="346.73" y="516.0" font-size="16.0" textLength="33.23" lengthAdjust="spacingAndGlyphs">15.0</text>
<text x="409.50" y="516.0" font-size="16.0" textLength="22.26" lengthAdjust="spacingAndGlyphs">0.0</text>
<text x="458.70" y="516.0" font-size="16.0" textLength="37.08" lengthAdjust="spacingAndGlyphs">-15.0</text>
<text x="515.80" y="516.0" font-size="16.0" textLength="36.38" lengthAdjust="spacingAndGlyphs">-30.0</text>
<text x="573.70" y="516.0" font-size="16.0" textLength="37.08" lengthAdjust="spacingAndGlyphs">-45.0</text>
<text x="631.70" y="516.0" font-size="16.0" textLength="36.68" lengthAdjust="spacingAndGlyphs">-60.0</text>
<text x="689.75" y="516.0" font-size="16.0" textLength="36.38" lengthAdjust="spacingAndGlyphs">-75.0</text>
<text x="738.70" y="516.0" font-size="16.0" textLength="35.56" lengthAdjust="spacingAndGlyphs">-87.7</text>
<text x="64.30" y="537.6" font-size="16.0" textLength="32.55" lengthAdjust="spacingAndGlyphs">83.9</text>
<text x="113.18" y="537.6" font-size="16.0" textLength="32.19" lengthAdjust="spacingAndGlyphs">71.3</text>
<text x="170.70" y="537.6" font-size="16.0" textLength="32.28" lengthAdjust="spacingAndGlyphs">57.2</text>
<text x="229.30" y="537.6" font-size="16.0" textLength="31.54" lengthAdjust="spacingAndGlyphs">42.6</text>
<text x="285.70" y="537.6" font-size="16.0" textLength="32.28" lengthAdjust="spacingAndGlyphs">28.2</text>
<text x="345.25" y="537.6" font-size="16.0" textLength="31.14" lengthAdjust="spacingAndGlyphs">16.2</text>
<text x="400.50" y="537.6" font-size="16.0" textLength="36.08" lengthAdjust="spacingAndGlyphs">-15.4</text>
<text x="457.80" y="537.6" font-size="16.0" textLength="36.47" lengthAdjust="spacingAndGlyphs">-27.5</text>
<text x="515.80" y="537.6" font-size="16.0" textLength="36.38" lengthAdjust="spacingAndGlyphs">-42.9</text>
<text x="573.70" y="537.6" font-size="16.0" textLength="37.08" lengthAdjust="spacingAndGlyphs">-58.6</text>
<text x="631.70" y="537.6" font-size="16.0" textLength="36.47" lengthAdjust="spacingAndGlyphs">-73.7</text>
<text x="689.75" y="537.6" font-size="16.0" textLength="36.38" lengthAdjust="spacingAndGlyphs">-85.3</text>
<text x="738.70" y="537.6" font-size="16.0" textLength="37.08" lengthAdjust="spacingAndGlyphs">-76.3</text>
<text x="70.20" y="559.6" font-size="16.0" textLength="24.58" lengthAdjust="spacingAndGlyphs">2.9</text>
<text x="119.80" y="559.6" font-size="16.0" textLength="23.16" lengthAdjust="spacingAndGlyphs">4.6</text>
<text x="178.00" y="559.6" font-size="16.0" textLength="22.86" lengthAdjust="spacingAndGlyphs">4.9</text>
<text x="235.52" y="559.6" font-size="16.0" textLength="23.32" lengthAdjust="spacingAndGlyphs">5.0</text>
<text x="293.49" y="559.6" font-size="16.0" textLength="23.74" lengthAdjust="spacingAndGlyphs">5.0</text>
<text x="350.52" y="559.6" font-size="16.0" textLength="23.32" lengthAdjust="spacingAndGlyphs">5.0</text>
<text x="408.52" y="559.6" font-size="16.0" textLength="23.32" lengthAdjust="spacingAndGlyphs">5.0</text>
<text x="466.27" y="559.6" font-size="16.0" textLength="23.32" lengthAdjust="spacingAndGlyphs">5.0</text>
<text x="525.25" y="559.6" font-size="16.0" textLength="23.16" lengthAdjust="spacingAndGlyphs">4.9</text>
<text x="582.25" y="559.6" font-size="16.0" textLength="22.35" lengthAdjust="spacingAndGlyphs">4.7</text>
<text x="640.25" y="559.6" font-size="16.0" textLength="22.35" lengthAdjust="spacingAndGlyphs">4.1</text>
<text x="698.30" y="559.6" font-size="16.0" textLength="22.26" lengthAdjust="spacingAndGlyphs">0.0</text>
<text x="739.80" y="559.6" font-size="16.0" textLength="31.97" lengthAdjust="spacingAndGlyphs">18.4</text>
<text x="58.79" y="581.6" font-size="16.0" textLength="41.49" lengthAdjust="spacingAndGlyphs">22:15</text>
<text x="107.68" y="581.6" font-size="16.0" textLength="42.73" lengthAdjust="spacingAndGlyphs">22:18</text>
<text x="165.75" y="581.6" font-size="16.0" textLength="42.00" lengthAdjust="spacingAndGlyphs">22:22</text>
<text x="223.50" y="581.6" font-size="16.0" textLength="41.90" lengthAdjust="spacingAndGlyphs">22:26</text>
<text x="281.49" y="581.6" font-size="16.0" textLength="42.62" lengthAdjust="spacingAndGlyphs">22:30</text>
<text x="338.81" y="581.6" font-size="16.0" textLength="41.28" lengthAdjust="spacingAndGlyphs">22:34</text>
<text x="396.50" y="581.6" font-size="16.0" textLength="42.10" lengthAdjust="spacingAndGlyphs">22:38</text>
<text x="454.99" y="581.6" font-size="16.0" textLength="42.11" lengthAdjust="spacingAndGlyphs">22:42</text>
<text x="513.00" y="581.6" font-size="16.0" textLength="41.49" lengthAdjust="spacingAndGlyphs">22:46</text>
<text x="569.99" y="581.6" font-size="16.0" textLength="42.11" lengthAdjust="spacingAndGlyphs">22:50</text>
<text x="628.00" y="581.6" font-size="16.0" textLength="41.49" lengthAdjust="spacingAndGlyphs">22:54</text>
<text x="685.74" y="581.6" font-size="16.0" textLength="42.11" lengthAdjust="spacingAndGlyphs">22:58</text>
<text x="734.70" y="581.6" font-size="16.0" textLength="41.18" lengthAdjust="spacingAndGlyphs">23:02</text>
<text x="42.51" y="118.8" font-size="16.0" textLength="22.78" lengthAdjust="spacingAndGlyphs">7.5</text>
<text x="42.12" y="173.8" font-size="16.0" textLength="23.32" lengthAdjust="spacingAndGlyphs">5.0</text>
<text x="42.09" y="229.9" font-size="16.0" textLength="23.74" lengthAdjust="spacingAndGlyphs">2.5</text>
<text x="43.10" y="284.8" font-size="16.0" textLength="22.86" lengthAdjust="spacingAndGlyphs">0.0</text>
<text x="36.90" y="339.9" font-size="16.0" textLength="28.80" lengthAdjust="spacingAndGlyphs">-2.5</text>
<text x="35.88" y="395.8" font-size="16.0" textLength="30.05" lengthAdjust="spacingAndGlyphs">-5.0</text>
<text x="36.90" y="450.8" font-size="16.0" textLength="28.31" lengthAdjust="spacingAndGlyphs">-7.5</text>
<text x="786.99" y="517.0" font-size="16.0" textLength="26.70" lengthAdjust="spacingAndGlyphs">LAT</text>
<text x="819.05" y="517.0" font-size="16.0" textLength="20.07" lengthAdjust="spacingAndGlyphs">[°]</text>
<text x="786.98" y="539.0" font-size="16.0" textLength="39.88" lengthAdjust="spacingAndGlyphs">MLAT</text>
<text x="832.06" y="539.0" font-size="16.0" textLength="18.89" lengthAdjust="spacingAndGlyphs">[°]</text>
<text x="787.01" y="560.0" font-size="16.0" textLength="29.17" lengthAdjust="spacingAndGlyphs">MLT</text>
<text x="822.00" y="560.0" font-size="16.0" textLength="21.13" lengthAdjust="spacingAndGlyphs">[h]</text>
<text x="787.02" y="581.0" font-size="16.0" textLength="29.30" lengthAdjust="spacingAndGlyphs">UTC</text>
<text x="822.00" y="581.0" font-size="16.0" textLength="26.50" lengthAdjust="spacingAndGlyphs">[HH</text>
<text x="853.30" y="581.0" font-size="16.0" textLength="4.45" lengthAdjust="spacingAndGlyphs">:</text>
<text x="861.01" y="581.0" font-size="16.0" textLength="30.47" lengthAdjust="spacingAndGlyphs">MM]</text>
<text x="155.69" y="30.8" font-size="17.6" textLength="62.60" lengthAdjust="spacingAndGlyphs">Swarm</text>
<text x="224.82" y="30.8" font-size="17.6" textLength="19.48" lengthAdjust="spacingAndGlyphs">B,</text>
<text x="252.69" y="30.8" font-size="17.6" textLength="47.39" lengthAdjust="spacingAndGlyphs">2026</text>
<text x="303.70" y="30.8" font-size="17.6" textLength="13.71" lengthAdjust="spacingAndGlyphs">−</text>
<text x="322.25" y="30.8" font-size="17.6" textLength="22.51" lengthAdjust="spacingAndGlyphs">01</text>
<text x="349.00" y="30.8" font-size="17.6" textLength="13.71" lengthAdjust="spacingAndGlyphs">−</text>
<text x="367.73" y="30.8" font-size="17.6" textLength="30.07" lengthAdjust="spacingAndGlyphs">24,</text>
<text x="407.00" y="30.8" font-size="17.6" textLength="35.26" lengthAdjust="spacingAndGlyphs">FAC</text>
<text x="448.70" y="30.8" font-size="17.6" textLength="103.68" lengthAdjust="spacingAndGlyphs">southward,</text>
<text x="560.69" y="30.8" font-size="17.6" textLength="43.30" lengthAdjust="spacingAndGlyphs">orbit</text>
<text x="610.80" y="30.8" font-size="17.6" textLength="70.87" lengthAdjust="spacingAndGlyphs">#67599</text>
<text x="123.20" y="53.7" font-size="17.6" textLength="69.30" lengthAdjust="spacingAndGlyphs">Equator</text>
<text x="198.70" y="53.7" font-size="17.6" textLength="3.95" lengthAdjust="spacingAndGlyphs">:</text>
<text x="214.00" y="53.7" font-size="17.6" textLength="36.17" lengthAdjust="spacingAndGlyphs">UTC</text>
<text x="256.52" y="53.7" font-size="17.6" textLength="23.94" lengthAdjust="spacingAndGlyphs">22</text>
<text x="284.70" y="53.7" font-size="17.6" textLength="3.95" lengthAdjust="spacingAndGlyphs">:</text>
<text x="293.71" y="53.7" font-size="17.6" textLength="24.58" lengthAdjust="spacingAndGlyphs">38</text>
<text x="321.70" y="53.7" font-size="17.6" textLength="3.95" lengthAdjust="spacingAndGlyphs">:</text>
<text x="330.30" y="53.7" font-size="17.6" textLength="30.03" lengthAdjust="spacingAndGlyphs">38,</text>
<text x="368.99" y="53.7" font-size="17.6" textLength="20.73" lengthAdjust="spacingAndGlyphs">LT</text>
<text x="397.00" y="53.7" font-size="17.6" textLength="70.65" lengthAdjust="spacingAndGlyphs">05.43h,</text>
<text x="475.98" y="53.7" font-size="17.6" textLength="33.99" lengthAdjust="spacingAndGlyphs">Lon</text>
<text x="514.30" y="53.7" font-size="17.6" textLength="79.74" lengthAdjust="spacingAndGlyphs">101.83°,</text>
<text x="604.70" y="53.7" font-size="17.6" textLength="24.46" lengthAdjust="spacingAndGlyphs">Alt</text>
<text x="635.30" y="53.7" font-size="17.6" textLength="79.37" lengthAdjust="spacingAndGlyphs">493.5km</text>
<g transform="translate(21.75,324.5) rotate(-90)"><text x="-1.03" y="0" font-size="16.0" textLength="28.55" lengthAdjust="spacingAndGlyphs">FAC</text><text x="32.76" y="0" font-size="16.0" textLength="57.08" lengthAdjust="spacingAndGlyphs">[μA/m²]</text></g>
</svg></body></html>
